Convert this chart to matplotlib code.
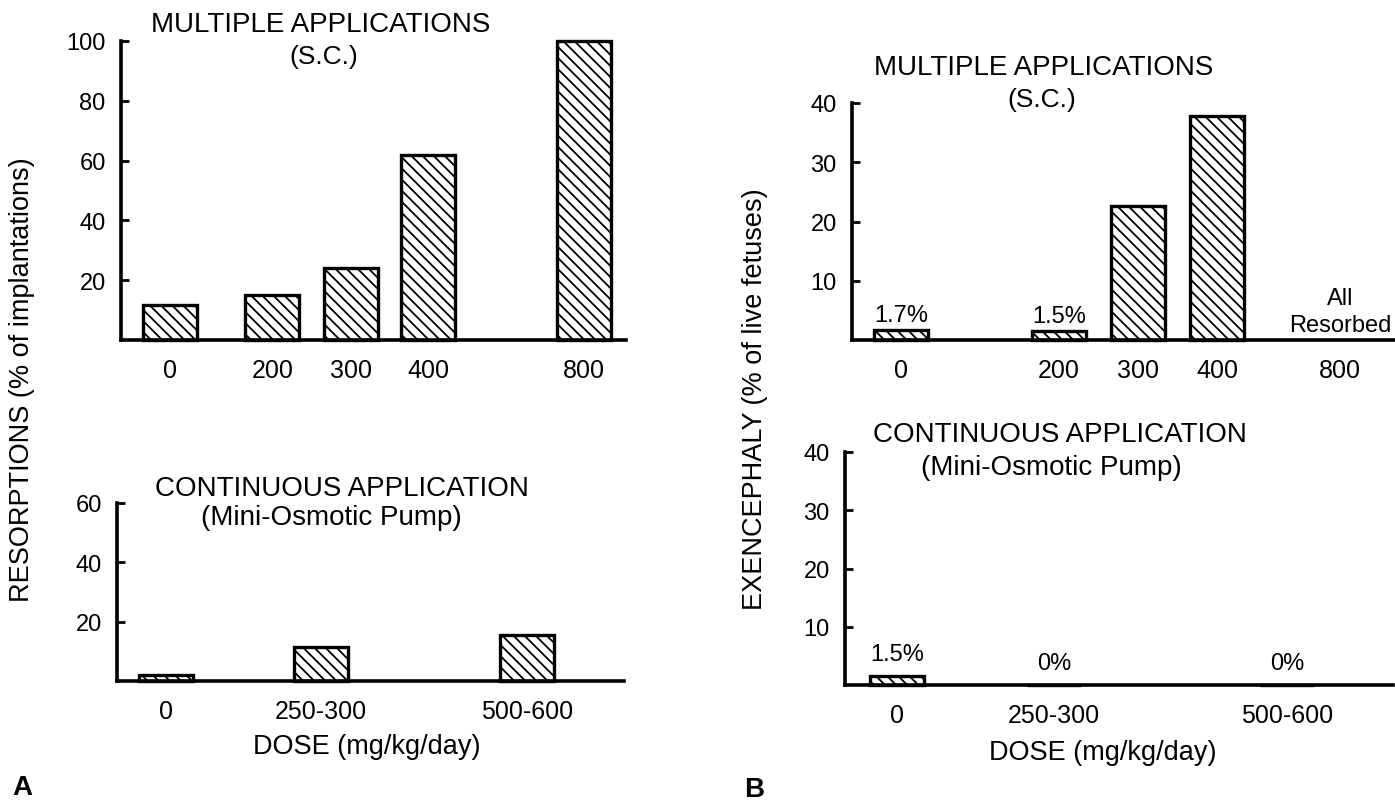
import numpy as np
import matplotlib
matplotlib.use('Agg')
import matplotlib.pyplot as plt

plt.rcParams['font.family'] = ['Liberation Sans', 'DejaVu Sans']
plt.rcParams['hatch.linewidth'] = 1.3
plt.rcParams['hatch.color'] = 'black'

W, H = 1395, 803

# ---- data ----
a_multi_doses = ['0', '200', '300', '400', '800']
a_multi_vals = [11.6, 15.0, 24.2, 61.8, 100]

a_cont_doses = ['0', '250-300', '500-600']
a_cont_vals = [2.1, 11.5, 15.5]

b_multi_doses = ['0', '200', '300', '400', '800']
b_multi_vals = [1.7, 1.5, 22.7, 37.8, np.nan]
b_multi_notes = ['1.7%', '1.5%', '', '', 'All\nResorbed']

b_cont_doses = ['0', '250-300', '500-600']
b_cont_vals = [1.5, 0, 0]
b_cont_notes = ['1.5%', '0%', '0%']

# ---- layout (bar-width units along each axis) ----
a_multi_pos = [0.91, 2.80, 4.26, 5.69, 8.57]
a_cont_pos = [0.91, 3.78, 7.59]
b_multi_pos = [0.91, 3.83, 5.30, 6.76, 9.04]
b_cont_pos = [0.96, 3.87, 8.19]


def px(x, y):
    return x / W, 1 - y / H


def box(left, top, right, bottom):
    return [left / W, 1 - bottom / H, (right - left) / W, (bottom - top) / H]


def style(ax, xmax, ymax, yticks, pos, labels):
    ax.set_xlim(0, xmax)
    ax.set_ylim(0, ymax)
    for s in ['top', 'right']:
        ax.spines[s].set_visible(False)
    for s in ['left', 'bottom']:
        ax.spines[s].set_linewidth(2.6)
    ax.set_yticks(yticks)
    ax.set_xticks(pos, labels)
    ax.tick_params(axis='y', direction='in', length=6, width=2, pad=11, labelsize=17)
    ax.tick_params(axis='x', length=0, pad=13, labelsize=18)
    ax.patch.set_alpha(0)


def draw_bars(ax, pos, vals):
    for p, v in zip(pos, vals):
        if np.isnan(v):
            continue
        ax.bar(p, v, width=1.0, facecolor='white', edgecolor='black',
               linewidth=2.4, hatch='\\\\\\', clip_on=False)


fig = plt.figure(figsize=(W / 100, H / 100), dpi=100)

# A: multiple applications
ax1 = fig.add_axes(box(121, 42, 626, 341))
draw_bars(ax1, a_multi_pos, a_multi_vals)
style(ax1, 9.35, 100, [20, 40, 60, 80, 100], a_multi_pos, a_multi_doses)

# A: continuous application
ax2 = fig.add_axes(box(117, 504, 624, 682))
draw_bars(ax2, a_cont_pos, a_cont_vals)
style(ax2, 9.39, 60, [20, 40, 60], a_cont_pos, a_cont_doses)

# B: multiple applications
ax3 = fig.add_axes(box(852, 104, 1395, 341))
draw_bars(ax3, b_multi_pos, b_multi_vals)
style(ax3, 10.06, 40, [10, 20, 30, 40], b_multi_pos, b_multi_doses)
for p, v, t in zip(b_multi_pos, b_multi_vals, b_multi_notes):
    if not t:
        continue
    if np.isnan(v):
        ax3.text(p, 0.6, t, ha='center', va='bottom', fontsize=17, linespacing=1.3)
    else:
        ax3.annotate(t, (p, v), xytext=(0, 3), textcoords='offset points',
                     ha='center', va='bottom', fontsize=17)

# B: continuous application
ax4 = fig.add_axes(box(845, 453, 1393, 686))
draw_bars(ax4, b_cont_pos, b_cont_vals)
style(ax4, 10.15, 40, [10, 20, 30, 40], b_cont_pos, b_cont_doses)
for p, v, t in zip(b_cont_pos, b_cont_vals, b_cont_notes):
    ax4.annotate(t, (p, v), xytext=(0, 8), textcoords='offset points',
                 ha='center', va='bottom', fontsize=17)

# titles
fig.text(*px(321, 25), 'MULTIPLE APPLICATIONS', ha='center', va='center', fontsize=20)
fig.text(*px(324, 57), '(S.C.)', ha='center', va='center', fontsize=19)
fig.text(*px(342, 489), 'CONTINUOUS APPLICATION', ha='center', va='center', fontsize=20)
fig.text(*px(331, 518), '(Mini-Osmotic Pump)', ha='center', va='center', fontsize=20)
fig.text(*px(1044, 68), 'MULTIPLE APPLICATIONS', ha='center', va='center', fontsize=20)
fig.text(*px(1042, 100), '(S.C.)', ha='center', va='center', fontsize=19)
fig.text(*px(1060, 435), 'CONTINUOUS APPLICATION', ha='center', va='center', fontsize=20)
fig.text(*px(1051, 468), '(Mini-Osmotic Pump)', ha='center', va='center', fontsize=20)

# axis labels
fig.text(*px(22, 380), 'RESORPTIONS (% of implantations)', rotation=90,
         ha='center', va='center', fontsize=19.5)
fig.text(*px(755, 399), 'EXENCEPHALY (% of live fetuses)', rotation=90,
         ha='center', va='center', fontsize=19.5)
fig.text(*px(367, 747), 'DOSE (mg/kg/day)', ha='center', va='center', fontsize=19.5)
fig.text(*px(1103, 753), 'DOSE (mg/kg/day)', ha='center', va='center', fontsize=19.5)

# panel letters
fig.text(*px(22, 788), 'A', ha='center', va='center', fontsize=20, fontweight='bold')
fig.text(*px(754, 790), 'B', ha='center', va='center', fontsize=20, fontweight='bold')

fig.savefig('out.png', dpi=100, facecolor='white')
